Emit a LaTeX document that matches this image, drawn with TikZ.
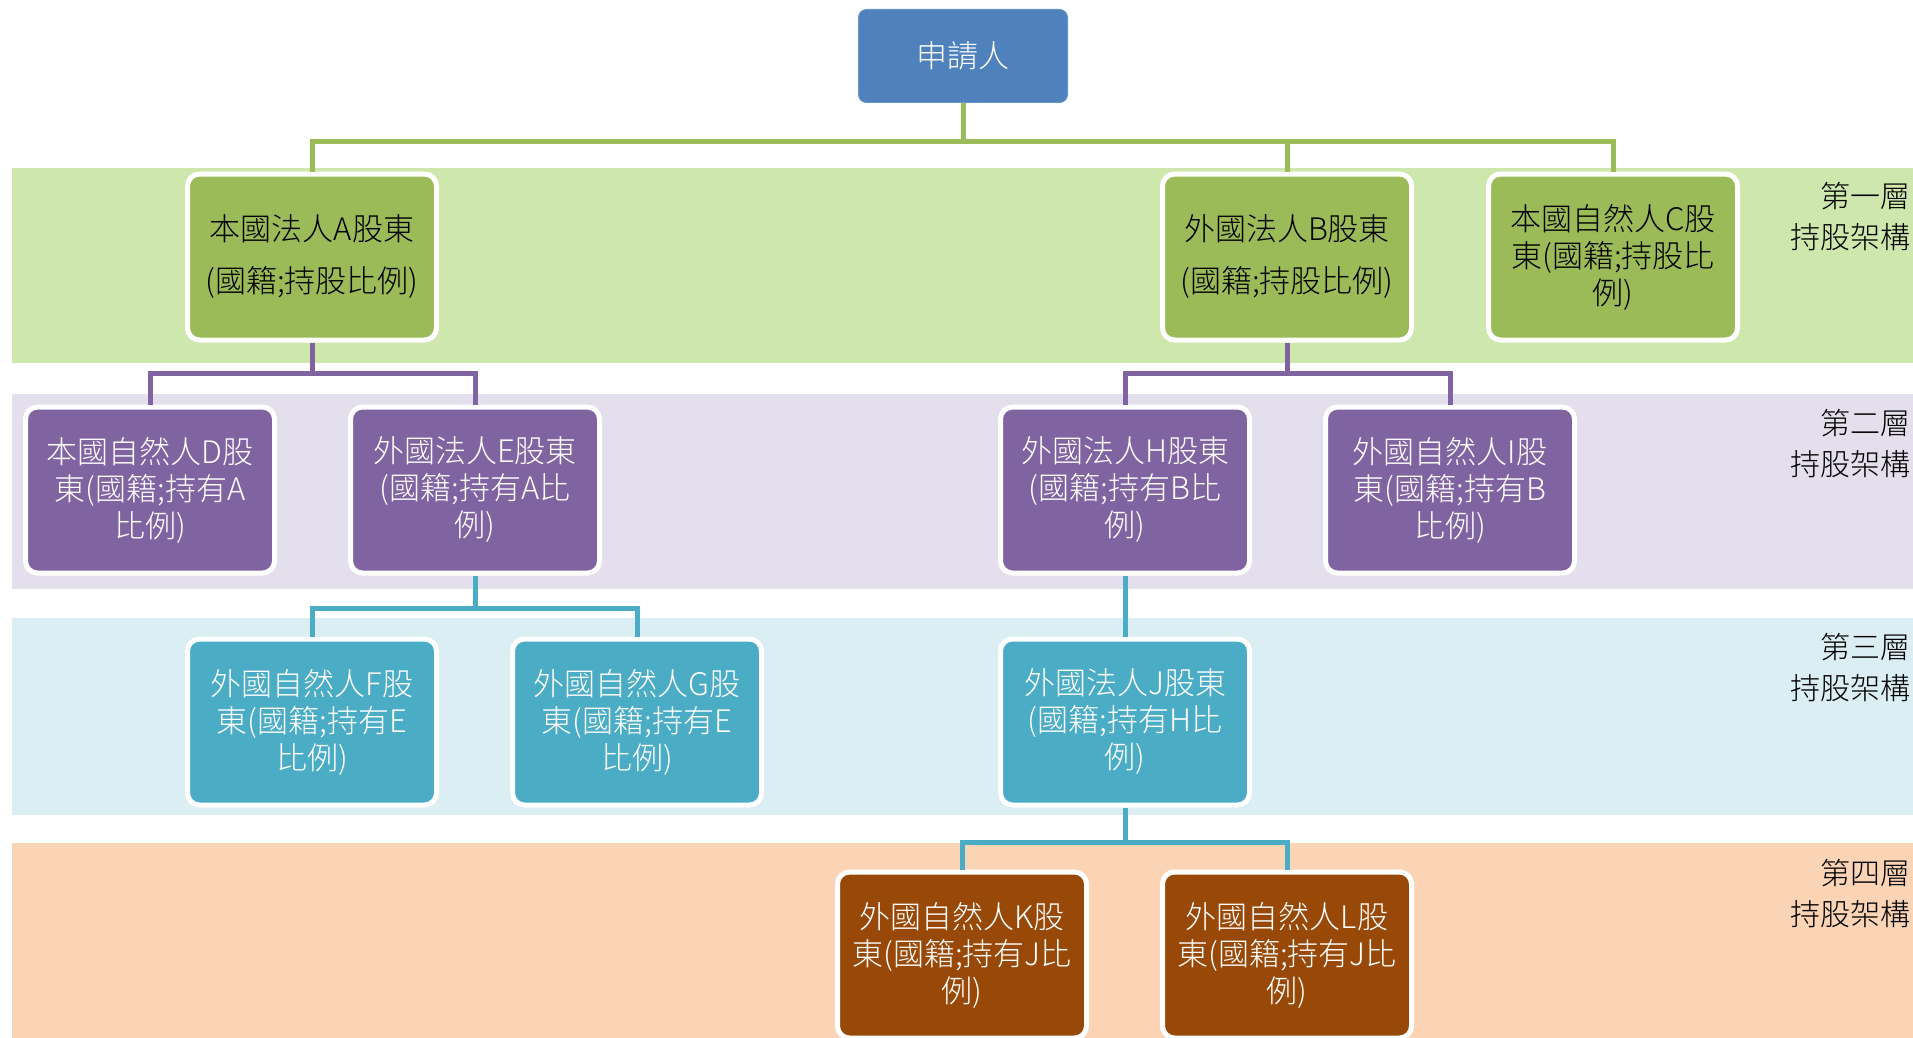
\documentclass[tikz,border=0pt]{standalone}
\usepackage{fontspec}
\setmainfont{Noto Sans CJK TC}[UprightFont=* Light]
\usepackage{xcolor}

\definecolor{appblue}{HTML}{4F81BD}
\definecolor{lvlonefill}{HTML}{9BBB59}
\definecolor{lvloneband}{HTML}{CDE7AC}
\definecolor{lvltwofill}{HTML}{8064A2}
\definecolor{lvltwoband}{HTML}{E4DFEC}
\definecolor{lvlthreefill}{HTML}{4BACC6}
\definecolor{lvlthreeband}{HTML}{DAEEF3}
\definecolor{lvlfourfill}{HTML}{984807}
\definecolor{lvlfourband}{HTML}{FAD4B5}

\begin{document}
\begin{tikzpicture}[x=1pt,y=-1pt]
      % Define styles
      \tikzset{
        shareholder/.style={rounded corners=12pt, draw=white, line width=5pt, minimum width=249pt, minimum height=166pt, inner sep=0pt, align=center, font=\fontsize{31}{37}\selectfont},
        levelone/.style={shareholder, fill=lvlonefill, text=black},
        leveltwo/.style={shareholder, fill=lvltwofill, text=white},
        levelthree/.style={shareholder, fill=lvlthreefill, text=white},
        levelfour/.style={shareholder, fill=lvlfourfill, text=white},
        applicant/.style={rounded corners=8pt, draw=appblue!85!white, line width=1pt, fill=appblue, text=white, minimum width=209pt, minimum height=93pt, font=\fontsize{31}{37}\selectfont},
        link/.style={line width=5pt},
        tag/.style={anchor=east, align=right, inner sep=0pt, font=\fontsize{30}{41}\selectfont}
      }
      \clip (0,0) rectangle (1913,1038);
      % Background bands for each level
      \fill[lvloneband] (12,168) rectangle (1913,363);
      \fill[lvltwoband] (12,394) rectangle (1913,589);
      \fill[lvlthreeband] (12,618) rectangle (1913,815);
      \fill[lvlfourband] (12,843) rectangle (1913,1038);
      % Applicant
      \node[applicant] (app) at (963,56) {申請人};
      % First level shareholders
      \node[levelone] (A) at (312,257) {本國法人A股東\\[15pt](國籍;持股比例)};
      \node[levelone] (B) at (1287,257) {外國法人B股東\\[15pt](國籍;持股比例)};
      \node[levelone] (C) at (1613,257) {本國自然人C股\\東(國籍;持股比\\例)};
      % Second level shareholders
      \node[leveltwo] (D) at (150,490) {本國自然人D股\\東(國籍;持有A\\比例)};
      \node[leveltwo] (E) at (475,490) {外國法人E股東\\(國籍;持有A比\\例)};
      \node[leveltwo] (H) at (1125,490) {外國法人H股東\\(國籍;持有B比\\例)};
      \node[leveltwo] (I) at (1450,490) {外國自然人I股\\東(國籍;持有B\\比例)};
      % Third level shareholders
      \node[levelthree] (F) at (312,722) {外國自然人F股\\東(國籍;持有E\\比例)};
      \node[levelthree] (G) at (637,722) {外國自然人G股\\東(國籍;持有E\\比例)};
      \node[levelthree] (J) at (1125,722) {外國法人J股東\\(國籍;持有H比\\例)};
      % Fourth level shareholders
      \node[levelfour] (K) at (962,955) {外國自然人K股\\東(國籍;持有J比\\例)};
      \node[levelfour] (L) at (1287,955) {外國自然人L股\\東(國籍;持有J比\\例)};
      % Connectors
      \draw[link, lvlonefill] (app.south) -- ++(0,38) coordinate (jA);
      \foreach \n in {A,B,C} {
        \draw[link, lvlonefill] (jA) -| (\n.north);
      }
      \draw[link, lvltwofill] (A.south) -- ++(0,31) coordinate (jD);
      \foreach \n in {D,E} {
        \draw[link, lvltwofill] (jD) -| (\n.north);
      }
      \draw[link, lvltwofill] (B.south) -- ++(0,31) coordinate (jH);
      \foreach \n in {H,I} {
        \draw[link, lvltwofill] (jH) -| (\n.north);
      }
      \draw[link, lvlthreefill] (E.south) -- ++(0,33) coordinate (jF);
      \foreach \n in {F,G} {
        \draw[link, lvlthreefill] (jF) -| (\n.north);
      }
      \draw[link, lvlthreefill] (H.south) -- (J.north);
      \draw[link, lvlthreefill] (J.south) -- ++(0,35) coordinate (jK);
      \foreach \n in {K,L} {
        \draw[link, lvlthreefill] (jK) -| (\n.north);
      }
      % Level labels
      \node[tag] (t1) at (1911,217) {第一層\\持股架構};
      \node[tag] (t2) at (1911,444) {第二層\\持股架構};
      \node[tag] (t3) at (1911,668) {第三層\\持股架構};
      \node[tag] (t4) at (1911,894) {第四層\\持股架構};
    \end{tikzpicture}
\end{document}
